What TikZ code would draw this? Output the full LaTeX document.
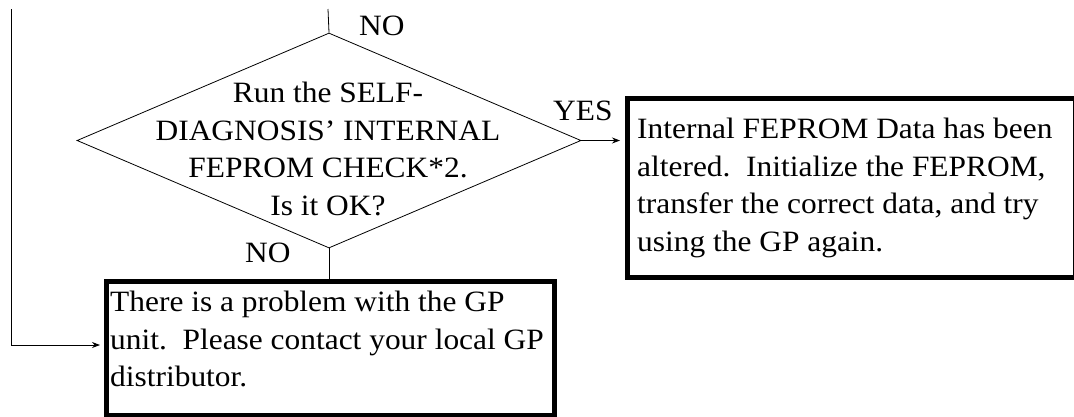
\documentclass[tikz,border=0pt]{standalone}
\usepackage{fontspec}
\setmainfont{Liberation Serif}[FakeStretch=1.065]
\usetikzlibrary{shapes.geometric,arrows.meta}
\begin{document}
\begin{tikzpicture}[x=1pt,y=-1pt,
  every node/.style={font=\fontsize{29.5}{37.5}\selectfont},
  thinline/.style={line width=0.8pt},
  arr/.style={thinline,-{Stealth[length=8pt,width=6pt]}},
  resbox/.style={draw,line width=5pt,inner sep=0pt,anchor=north west},
  txt/.style={align=left,inner sep=0pt},
  lbl/.style={inner sep=0pt,anchor=base west}]
\useasboundingbox (0,0) rectangle (1074,416);
% decision
\node[diamond,draw,thinline,minimum width=504,minimum height=215,inner sep=0pt] (dec) at (329,140.5) {};
\node[align=center,inner sep=0pt,anchor=north] (dectxt) at (328,82) {Run the SELF-\\DIAGNOSIS' INTERNAL\\FEPROM CHECK*2.\\Is it OK?};
% result boxes
\node[resbox,minimum width=448,minimum height=179] (box1) at (625,95.5) {};
\node[txt,anchor=north west] (box1txt) at (637,118) {Internal FEPROM Data has been\\altered.\ \ Initialize the FEPROM,\\transfer the correct data, and try\\using the GP again.};
\node[resbox,minimum width=448,minimum height=134.5] (box2) at (104,278.5) {};
\node[txt,anchor=north west] (box2txt) at (110,291) {There is a problem with the GP\\unit.\ \ Please contact your local GP\\distributor.};
% labels
\node[lbl] (no1) at (359,35) {NO};
\node[lbl] (yes) at (553,120) {YES};
\node[lbl] (no2) at (245,262) {NO};
% connectors
\coordinate (topin) at (328,9);
\coordinate (lefttop) at (11,9);
\coordinate (leftbot) at (11,345);
\draw[thinline] (topin) -- (dec.north);
\draw[thinline] (dec.south) -- (dec.south |- box2.north);
\draw[arr,shorten >=5pt] (dec.east) -- (dec.east -| box1.west);
\draw[arr,shorten >=4pt] (lefttop) -- (leftbot) -- (leftbot -| box2.west);
\end{tikzpicture}
\end{document}
